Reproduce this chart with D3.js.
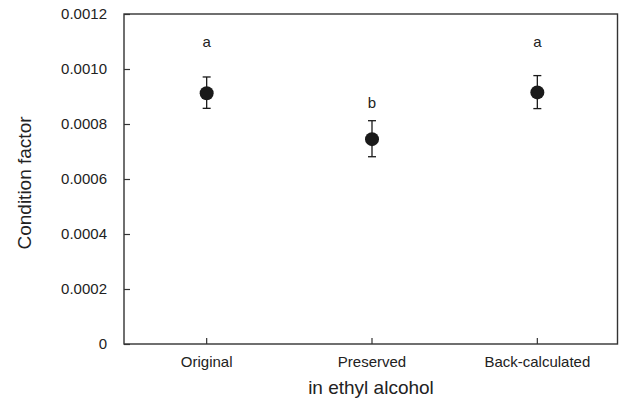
<!DOCTYPE html>
<html>
<head>
<meta charset="utf-8">
<script src="https://cdn.jsdelivr.net/npm/d3@7"></script>
<style>
  body { margin: 0; background: #fff; }
  text { font-family: "Liberation Sans", Arial, sans-serif; fill: #222; }
</style>
</head>
<body>
<svg class="chart"></svg>
<script>
const groups = ["Original", "Preserved", "Back-calculated"];
const means = [0.000912, 0.000745, 0.000915];
const upper = [0.000971, 0.000812, 0.000976];
const lower = [0.000857, 0.000681, 0.000856];
const letters = ["a", "b", "a"];
const letterPos = [0.00108, 0.000857, 0.00108];
const yTicks = [0, 0.0002, 0.0004, 0.0006, 0.0008, 0.0010, 0.0012];

const width = 621, height = 401;
const margin = {left: 124, right: 3, top: 14, bottom: 57};
const innerWidth = width - margin.left - margin.right;
const innerHeight = height - margin.top - margin.bottom;

const svg = d3.select(".chart").attr("width", width).attr("height", height);
const g = svg.append("g").attr("transform", `translate(${margin.left}, ${margin.top})`);

const x = d3.scaleBand().domain(groups).range([0, innerWidth + 2]);
const y = d3.scaleLinear().domain([0, 0.0012]).range([innerHeight, 0]);
const cx = d => x(d) + x.bandwidth() / 2;

// frame
g.append("rect").attr("x", 0).attr("y", 0).attr("width", innerWidth - 0.5).attr("height", innerHeight)
  .attr("fill", "none").attr("stroke", "#333").attr("stroke-width", 1.4);

// y axis, ticks inside
const yAxis = g.append("g")
  .call(d3.axisRight(y).tickValues(yTicks).tickSize(6).tickFormat(d => d === 0 ? "0" : d3.format(".4f")(d)));
yAxis.select(".domain").remove();
yAxis.selectAll(".tick line").attr("stroke", "#333").attr("stroke-width", 1.2);
yAxis.selectAll(".tick text").attr("x", -17).attr("text-anchor", "end")
  .style("font-size", "15px").attr("fill", "#222");

// x axis, ticks inside
const xAxis = g.append("g").attr("transform", `translate(0, ${innerHeight})`)
  .call(d3.axisTop(x).tickSize(6).tickFormat(d => d));
xAxis.select(".domain").remove();
xAxis.selectAll(".tick line").attr("stroke", "#333").attr("stroke-width", 1.2);
xAxis.selectAll(".tick text").attr("y", 23).attr("dy", 0).style("font-size", "15px").attr("fill", "#222");

// error bars
const bars = g.selectAll(".err").data(groups).join("g").attr("class", "err");
bars.append("line").attr("x1", d => cx(d)).attr("x2", d => cx(d))
  .attr("y1", (d, i) => y(upper[i])).attr("y2", (d, i) => y(lower[i]))
  .attr("stroke", "#1a1a1a").attr("stroke-width", 1.3);
bars.append("line").attr("x1", d => cx(d) - 4).attr("x2", d => cx(d) + 4)
  .attr("y1", (d, i) => y(upper[i])).attr("y2", (d, i) => y(upper[i]))
  .attr("stroke", "#1a1a1a").attr("stroke-width", 1.3);
bars.append("line").attr("x1", d => cx(d) - 4).attr("x2", d => cx(d) + 4)
  .attr("y1", (d, i) => y(lower[i])).attr("y2", (d, i) => y(lower[i]))
  .attr("stroke", "#1a1a1a").attr("stroke-width", 1.3);

// points
g.selectAll(".pt").data(groups).join("circle").attr("class", "pt")
  .attr("cx", d => cx(d)).attr("cy", (d, i) => y(means[i])).attr("r", 7)
  .attr("fill", "#1a1a1a");

// significance letters
g.selectAll(".letter").data(groups).join("text").attr("class", "letter")
  .attr("x", d => cx(d)).attr("y", (d, i) => y(letterPos[i]))
  .attr("text-anchor", "middle").style("font-size", "15px")
  .text((d, i) => letters[i]);

// axis titles
svg.append("text").attr("x", margin.left + innerWidth / 2).attr("y", 394)
  .attr("text-anchor", "middle").style("font-size", "19px").text("in ethyl alcohol");
svg.append("text").attr("transform", `translate(31, ${183}) rotate(-90)`)
  .attr("text-anchor", "middle").style("font-size", "19px").text("Condition factor");
</script>
</body>
</html>
